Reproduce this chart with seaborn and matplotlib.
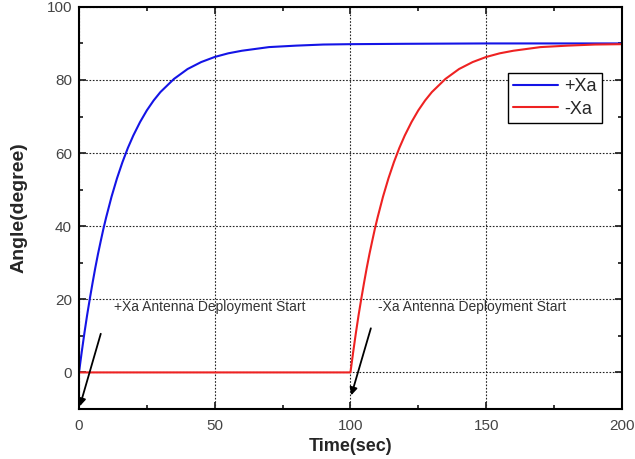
import seaborn as sns
import matplotlib.pyplot as plt
import pandas as pd

# Values
time_pos = [0, 1, 2, 3, 4, 5, 6, 7, 8, 9, 10, 12, 14, 16, 18, 20, 22.5, 25,
            27.5, 30, 35, 40, 45, 50, 55, 60, 70, 80, 90, 100, 120, 150, 200]
angle_pos = [0, 5.55, 10.8, 15.7, 20.2, 24.5, 28.6, 32.4, 35.9, 39.3, 42.4,
             48.1, 53.1, 57.5, 61.4, 64.8, 68.5, 71.7, 74.4, 76.7, 80.3, 83.0,
             84.9, 86.3, 87.3, 88.0, 89.0, 89.4, 89.7, 89.8, 89.9, 90.0, 90.0]
time_neg = [0, 100, 101, 102, 103, 104, 105, 106, 107, 108, 109, 110, 112,
            114, 116, 118, 120, 122.5, 125, 127.5, 130, 135, 140, 145, 150,
            155, 160, 170, 180, 190, 200]
angle_neg = [0, 0, 5.55, 10.8, 15.7, 20.2, 24.5, 28.6, 32.4, 35.9, 39.3, 42.4,
             48.1, 53.1, 57.5, 61.4, 64.8, 68.5, 71.7, 74.4, 76.7, 80.3, 83.0,
             84.9, 86.3, 87.3, 88.0, 89.0, 89.4, 89.7, 89.8]

df = pd.concat([
    pd.DataFrame({'Time': time_pos, 'Angle': angle_pos, 'Series': '+Xa'}),
    pd.DataFrame({'Time': time_neg, 'Angle': angle_neg, 'Series': '-Xa'}),
])

sns.set_style('ticks')
plt.rcParams['font.family'] = ['Liberation Sans', 'DejaVu Sans']

fig = plt.figure(figsize=(6.35, 4.59), dpi=100)
ax = fig.add_axes([0.1244, 0.109, 0.855, 0.876])
sns.lineplot(data=df, x='Time', y='Angle', hue='Series',
             palette={'+Xa': '#1414e6', '-Xa': '#ee2222'},
             linewidth=1.5, sort=False, estimator=None, ax=ax)

ax.set_xlim(0, 200)
ax.set_ylim(-10, 100)
ax.set_xticks([0, 50, 100, 150, 200])
ax.set_xticks([25, 75, 125, 175], minor=True)
ax.set_yticks([0, 20, 40, 60, 80, 100])
ax.set_yticks([-10, 10, 30, 50, 70, 90], minor=True)
ax.grid(True, which='major', linestyle=(0, (1.5, 1.5)), color='#222222', linewidth=0.8)
ax.tick_params(which='both', direction='in', top=True, right=True,
               labelsize=11, labelcolor='#444444', width=1.3)
ax.tick_params(axis='x', pad=7)
ax.tick_params(axis='y', pad=5)
ax.tick_params(which='major', length=5)
ax.tick_params(which='minor', length=3)
for s in ax.spines.values():
    s.set_linewidth(1.5)
    s.set_color('black')

ax.set_xlabel('Time(sec)', fontsize=13, fontweight='bold', labelpad=4)
ax.set_ylabel('Angle(degree)', fontsize=14, fontweight='bold', labelpad=14)

ax.text(12.9, 18, '+Xa Antenna Deployment Start', fontsize=10, color='#333333', va='center')
ax.text(110, 18, '-Xa Antenna Deployment Start', fontsize=10, color='#333333', va='center')
ax.annotate('', xy=(0, -10), xytext=(8.3, 11.3),
            arrowprops=dict(arrowstyle='-|>', color='black', lw=1.3, mutation_scale=11))
ax.annotate('', xy=(100, -7), xytext=(107.8, 12.8),
            arrowprops=dict(arrowstyle='-|>', color='black', lw=1.3, mutation_scale=11))

leg = ax.legend(loc='upper right', bbox_to_anchor=(0.963, 0.836), borderaxespad=0,
                fontsize=13, frameon=True, fancybox=False, handlelength=2.5,
                borderpad=0.3, labelspacing=0.3, handletextpad=0.3)
leg.get_frame().set_edgecolor('black')
leg.get_frame().set_linewidth(1.0)
leg.get_frame().set_alpha(1)

fig.savefig('out.png', dpi=100)
